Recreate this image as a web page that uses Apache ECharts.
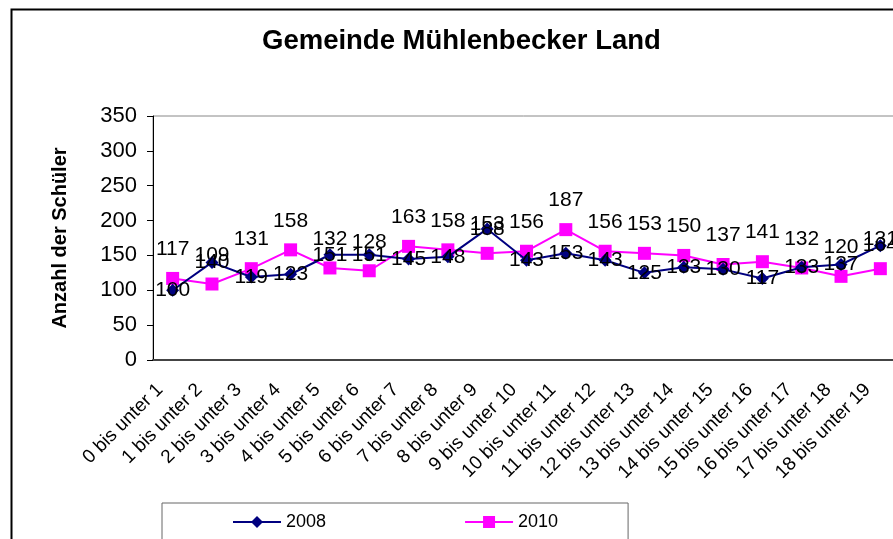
<!DOCTYPE html>
<html>
<head>
<meta charset="utf-8">
<script src="https://cdn.jsdelivr.net/npm/echarts@6/dist/echarts.min.js"></script>
<style>
  html, body { margin: 0; padding: 0; background: #fff; }
  #main { width: 893px; height: 539px; }
</style>
</head>
<body>
<div id="main"></div>
<script>
// Altersgruppen
const categories = [
  '0 bis unter 1', '1 bis unter 2', '2 bis unter 3', '3 bis unter 4', '4 bis unter 5',
  '5 bis unter 6', '6 bis unter 7', '7 bis unter 8', '8 bis unter 9', '9 bis unter 10',
  '10 bis unter 11', '11 bis unter 12', '12 bis unter 13', '13 bis unter 14', '14 bis unter 15',
  '15 bis unter 16', '16 bis unter 17', '17 bis unter 18', '18 bis unter 19'
];

// Schülerzahlen
const values2008 = [100, 140, 119, 123, 151, 151, 145, 148, 188, 143, 153, 143, 125, 133, 130, 117, 133, 137, 164];
const values2010 = [117, 109, 131, 158, 132, 128, 163, 158, 153, 156, 187, 156, 153, 150, 137, 141, 132, 120, 131];

const yTicks = { min: 0, max: 350, interval: 50 };

const FONT = 'Liberation Sans, Arial, sans-serif';

var myChart = echarts.init(document.getElementById('main'));

var option = {
  backgroundColor: '#fff',
  animation: false,
  textStyle: { fontFamily: FONT },
  title: {
    text: 'Gemeinde Mühlenbecker Land',
    left: 262,
    top: 27,
    padding: 0,
    textStyle: { fontSize: 27.5, fontWeight: 'bold', color: '#000', fontFamily: FONT }
  },
  graphic: [
    {
      type: 'rect',
      left: 9,
      top: 7,
      shape: { width: 1000, height: 1000 },
      style: { fill: 'none', stroke: '#000', lineWidth: 2 },
      z: -1
    }
  ],
  legend: {
    left: 162,
    top: 503,
    padding: [10, 70, 40, 70],
    itemGap: 138,
    itemWidth: 48,
    itemHeight: 15,
    borderColor: '#666',
    borderWidth: 1,
    textStyle: { fontSize: 18, color: '#000', fontFamily: FONT },
    data: ['2008', '2010']
  },
  grid: {
    left: 153,
    top: 116,
    width: 747,
    bottom: 179,
    outerBoundsMode: 'none',
    show: true,
    borderColor: '#888',
    borderWidth: 1
  },
  xAxis: {
    type: 'category',
    data: categories,
    boundaryGap: true,
    axisLine: { lineStyle: { color: '#444', width: 2 } },
    axisTick: { length: 5, lineStyle: { color: '#444' } },
    axisLabel: {
      rotate: 45,
      interval: 0,
      margin: 14,
      padding: [0, 18, 0, 0],
      fontSize: 19,
      color: '#000',
      fontFamily: FONT
    }
  },
  yAxis: {
    type: 'value',
    min: yTicks.min,
    max: yTicks.max,
    interval: yTicks.interval,
    name: 'Anzahl der Schüler',
    nameLocation: 'middle',
    nameGap: 83,
    nameTextStyle: { fontSize: 20, fontWeight: 'bold', color: '#000', fontFamily: FONT },
    axisLine: { show: true, lineStyle: { color: '#000', width: 1 } },
    axisTick: { show: true, length: 6, lineStyle: { color: '#000' } },
    axisLabel: { fontSize: 22, color: '#000', margin: 16, fontFamily: FONT },
    splitLine: { show: false }
  },
  series: [
    {
      name: '2008',
      type: 'line',
      data: values2008,
      symbol: 'diamond',
      symbolSize: 13,
      z: 3,
      lineStyle: { color: '#000080', width: 2 },
      itemStyle: { color: '#000080' },
      label: {
        show: true,
        position: 'inside',
        fontSize: 21,
        color: '#000',
        fontFamily: FONT
      }
    },
    {
      name: '2010',
      type: 'line',
      data: values2010,
      symbol: 'rect',
      symbolSize: 13,
      z: 2,
      lineStyle: { color: '#FF00FF', width: 2 },
      itemStyle: { color: '#FF00FF' },
      label: {
        show: true,
        position: 'top',
        distance: 12,
        fontSize: 21,
        color: '#000',
        fontFamily: FONT
      }
    }
  ]
};
myChart.setOption(option);
</script>
</body>
</html>
